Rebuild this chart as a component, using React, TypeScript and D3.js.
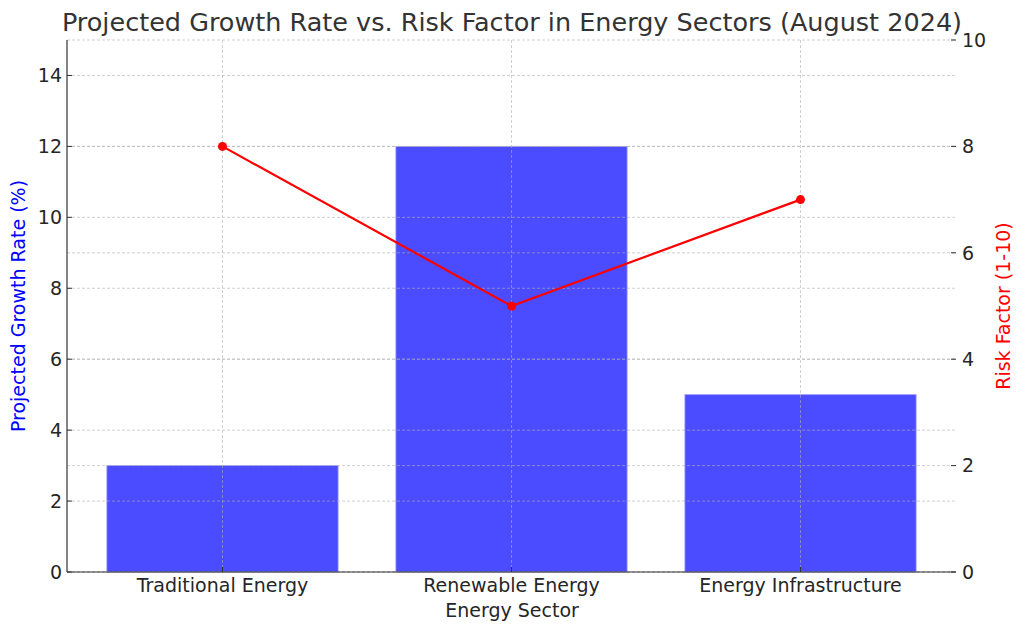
import React from "react";
import * as d3 from "d3";

const categories = ["Traditional Energy", "Renewable Energy", "Energy Infrastructure"];
const growthRates = [3, 12, 5];
const riskFactors = [8, 5, 7];
const leftTicks = [0, 2, 4, 6, 8, 10, 12, 14];
const rightTicks = [0, 2, 4, 6, 8, 10];

const W = 1024;
const H = 633;
const M = { left: 67, right: 956, top: 40, bottom: 572 };
const FONT = "'DejaVu Sans', sans-serif";
const FS = 19;

export default function App() {
  const x = d3.scaleBand<string>().domain(categories).range([M.left, M.right]).paddingInner(0.2).paddingOuter(0.138);
  const yL = d3.scaleLinear().domain([0, 15]).range([M.bottom, M.top]);
  const yR = d3.scaleLinear().domain([0, 10]).range([M.bottom, M.top]);
  const cx = (c: string) => (x(c) as number) + x.bandwidth() / 2;
  const line = d3
    .line<number>()
    .x((_, i) => cx(categories[i]))
    .y((d) => yR(d));
  const gridStyle = { stroke: "#b0b0b0", strokeOpacity: 0.75, strokeWidth: 0.8, strokeDasharray: "3,2" };

  return (
    <svg width={W} height={H} style={{ position: "absolute", left: 0, top: 0, background: "#fff", fontFamily: FONT }}>
      <text x={512} y={31} textAnchor="middle" fontSize={25.5} fill="#333">
        Projected Growth Rate vs. Risk Factor in Energy Sectors (August 2024)
      </text>
      {growthRates.map((v, i) => (
        <rect
          key={categories[i]}
          x={x(categories[i])}
          y={yL(v)}
          width={x.bandwidth()}
          height={yL(0) - yL(v)}
          fill="#4b4bff"
          stroke="#9a9aff"
          strokeWidth={0.8}
        />
      ))}
      {leftTicks.map((t) => (
        <line key={"gl" + t} x1={M.left} x2={M.right} y1={yL(t)} y2={yL(t)} {...gridStyle} />
      ))}
      {rightTicks.map((t) => (
        <line key={"gr" + t} x1={M.left} x2={M.right} y1={yR(t)} y2={yR(t)} {...gridStyle} />
      ))}
      {categories.map((c) => (
        <line key={"gv" + c} x1={cx(c)} x2={cx(c)} y1={M.top} y2={M.bottom} {...gridStyle} />
      ))}
      <line x1={M.left} x2={M.left} y1={M.top} y2={M.bottom} stroke="#333" strokeWidth={1.2} />
      <line x1={M.left} x2={M.right} y1={M.bottom} y2={M.bottom} stroke="#333" strokeWidth={1.2} />
      {leftTicks.map((t) => (
        <g key={"lt" + t}>
          <line x1={M.left} x2={M.left + 5} y1={yL(t)} y2={yL(t)} stroke="#333" />
          <text x={M.left - 5} y={yL(t)} dy="0.36em" textAnchor="end" fontSize={FS} fill="#262626">
            {t}
          </text>
        </g>
      ))}
      {rightTicks.map((t) => (
        <g key={"rt" + t}>
          <line x1={M.right - 5} x2={M.right} y1={yR(t)} y2={yR(t)} stroke="#333" />
          <text x={M.right + 6} y={yR(t)} dy="0.36em" textAnchor="start" fontSize={FS} fill="#262626">
            {t}
          </text>
        </g>
      ))}
      {categories.map((c) => (
        <g key={"xt" + c}>
          <line x1={cx(c)} x2={cx(c)} y1={M.bottom - 5} y2={M.bottom} stroke="#333" />
          <text x={cx(c)} y={592} textAnchor="middle" fontSize={FS} fill="#262626">
            {c}
          </text>
        </g>
      ))}
      <text x={512} y={617} textAnchor="middle" fontSize={FS} fill="#262626">
        Energy Sector
      </text>
      <text transform={`translate(25,${(M.top + M.bottom) / 2}) rotate(-90)`} textAnchor="middle" fontSize={FS} fill="blue">
        Projected Growth Rate (%)
      </text>
      <text transform={`translate(1010,${(M.top + M.bottom) / 2}) rotate(-90)`} textAnchor="middle" fontSize={FS} fill="red">
        Risk Factor (1-10)
      </text>
      <path d={line(riskFactors) ?? ""} fill="none" stroke="red" strokeWidth={2.2} />
      {riskFactors.map((v, i) => (
        <circle key={"m" + i} cx={cx(categories[i])} cy={yR(v)} r={4.5} fill="red" />
      ))}
    </svg>
  );
}
